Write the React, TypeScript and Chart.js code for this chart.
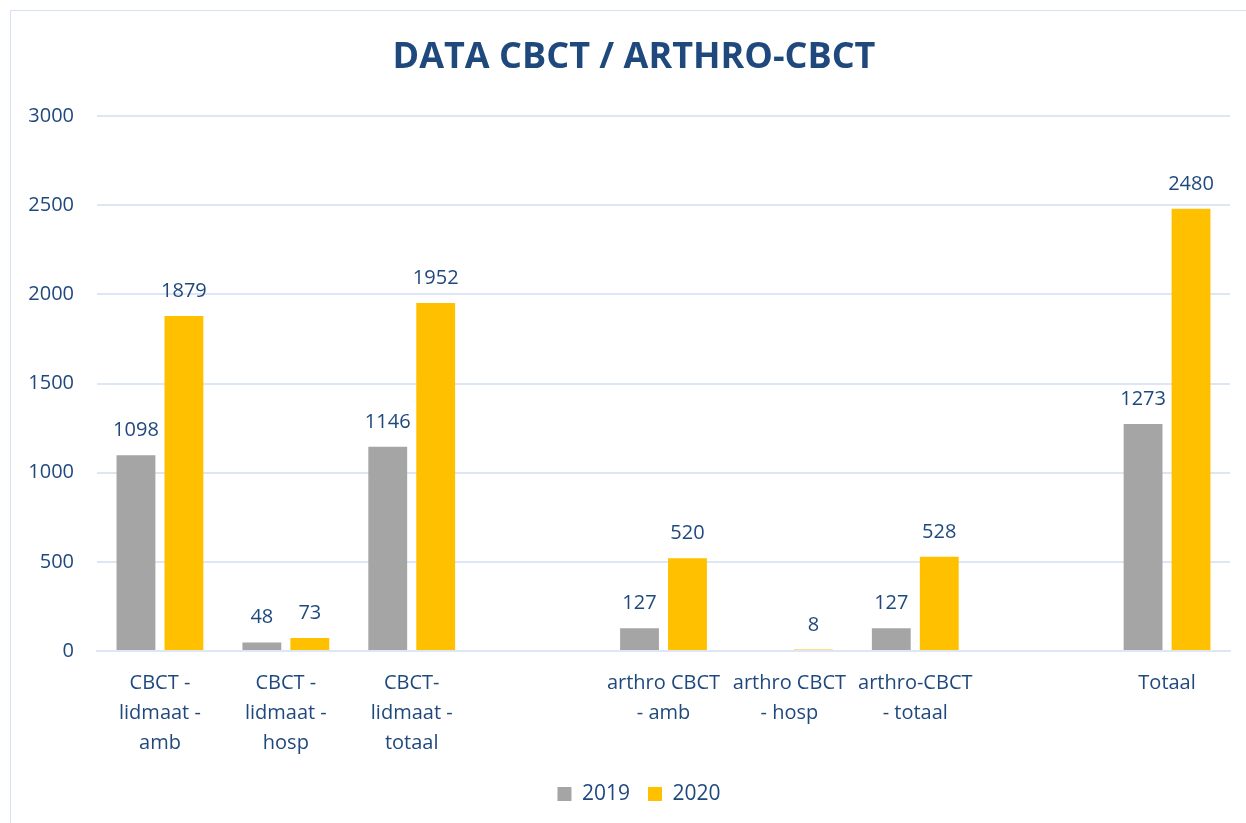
import React, { useEffect, useRef } from "react";
import { Chart, registerables } from "chart.js";

Chart.register(...registerables);

const categories: (string | string[])[] = [
  ["CBCT -", "lidmaat -", "amb"],
  ["CBCT -", "lidmaat -", "hosp"],
  ["CBCT-", "lidmaat -", "totaal"],
  "",
  ["arthro CBCT", "- amb"],
  ["arthro CBCT", "- hosp"],
  ["arthro-CBCT", "- totaal"],
  "",
  "Totaal",
];

const values2019: (number | null)[] = [1098, 48, 1146, null, 127, null, 127, null, 1273];
const values2020: (number | null)[] = [1879, 73, 1952, null, 520, 8, 528, null, 2480];

const seriesLabels = ["2019", "2020"];
const yTicks = [0, 500, 1000, 1500, 2000, 2500, 3000];
const titleText = "DATA CBCT / ARTHRO-CBCT";

const TEXT = "#1F497D";
const GRID = "#DCE6F4";
const FONT = "'Open Sans', sans-serif";

const valueLabels = {
  id: "valueLabels",
  afterLayout(chart: any) {
    // shift title and legend centring slightly right, as in the original
    if (chart.titleBlock) chart.titleBlock.left += 38;
    if (chart.legend) chart.legend.left += 48;
  },
  afterDatasetsDraw(chart: any) {
    const ctx = chart.ctx;
    ctx.save();
    ctx.fillStyle = TEXT;
    ctx.font = `20px ${FONT}`;
    ctx.textAlign = "center";
    ctx.textBaseline = "alphabetic";
    chart.data.datasets.forEach((ds: any, i: number) => {
      const meta = chart.getDatasetMeta(i);
      meta.data.forEach((bar: any, j: number) => {
        const v = ds.data[j];
        if (v === null || v === undefined) return;
        ctx.fillText(String(v), bar.x, bar.y - 19);
      });
    });
    ctx.restore();
  },
};

export default function App() {
  const ref = useRef<HTMLCanvasElement | null>(null);

  useEffect(() => {
    if (!ref.current) return;
    const chart = new Chart(ref.current, {
      type: "bar",
      data: {
        labels: categories,
        datasets: [
          {
            label: seriesLabels[0],
            data: values2019,
            backgroundColor: "#A5A5A5",
            categoryPercentage: 0.762,
            barPercentage: 0.81,
          },
          {
            label: seriesLabels[1],
            data: values2020,
            backgroundColor: "#FFC000",
            categoryPercentage: 0.762,
            barPercentage: 0.81,
          },
        ],
      },
      options: {
        animation: false,
        responsive: false,
        maintainAspectRatio: false,
        layout: { padding: { left: 0, right: 16, top: 36, bottom: 8.5 } },
        plugins: {
          title: {
            display: true,
            text: titleText,
            color: TEXT,
            font: { family: FONT, size: 36, weight: "bold", lineHeight: 1.2 },
            padding: { top: 0, bottom: 36.8 },
          },
          legend: {
            display: true,
            position: "bottom",
            labels: {
              color: TEXT,
              font: { family: FONT, size: 21 },
              boxWidth: 14,
              boxHeight: 14,
              padding: 18,
            },
          },
          tooltip: { enabled: false },
        },
        scales: {
          x: {
            afterFit: (scale: any) => {
              scale.height = 114.5;
            },
            grid: { display: false, drawTicks: false },
            border: { display: true, color: GRID, width: 2 },
            ticks: {
              color: TEXT,
              font: { family: FONT, size: 20, lineHeight: 1.5 },
              autoSkip: false,
              maxRotation: 0,
              minRotation: 0,
              padding: 17,
            },
          },
          y: {
            min: 0,
            max: 3000,
            afterBuildTicks: (scale: any) => {
              scale.ticks = yTicks.map((v) => ({ value: v }));
            },
            afterFit: (scale: any) => {
              scale.width = 97;
            },
            grid: { color: GRID, lineWidth: 2, drawTicks: false },
            border: { display: false },
            ticks: {
              color: TEXT,
              font: { family: FONT, size: 20 },
              padding: 23,
              callback: (v: any) => String(v),
            },
          },
        },
      },
      plugins: [valueLabels],
    });
    return () => chart.destroy();
  }, []);

  return (
    <div
      style={{
        position: "absolute",
        left: 0,
        top: 0,
        width: 1246,
        height: 823,
        overflow: "hidden",
        background: "#fff",
      }}
    >
      <div
        style={{
          position: "absolute",
          left: 10,
          top: 10,
          width: 1260,
          height: 840,
          border: "1.5px solid #D6E2F3",
        }}
      />
      <canvas ref={ref} width={1246} height={823} style={{ position: "absolute", left: 0, top: 0 }} />
    </div>
  );
}
